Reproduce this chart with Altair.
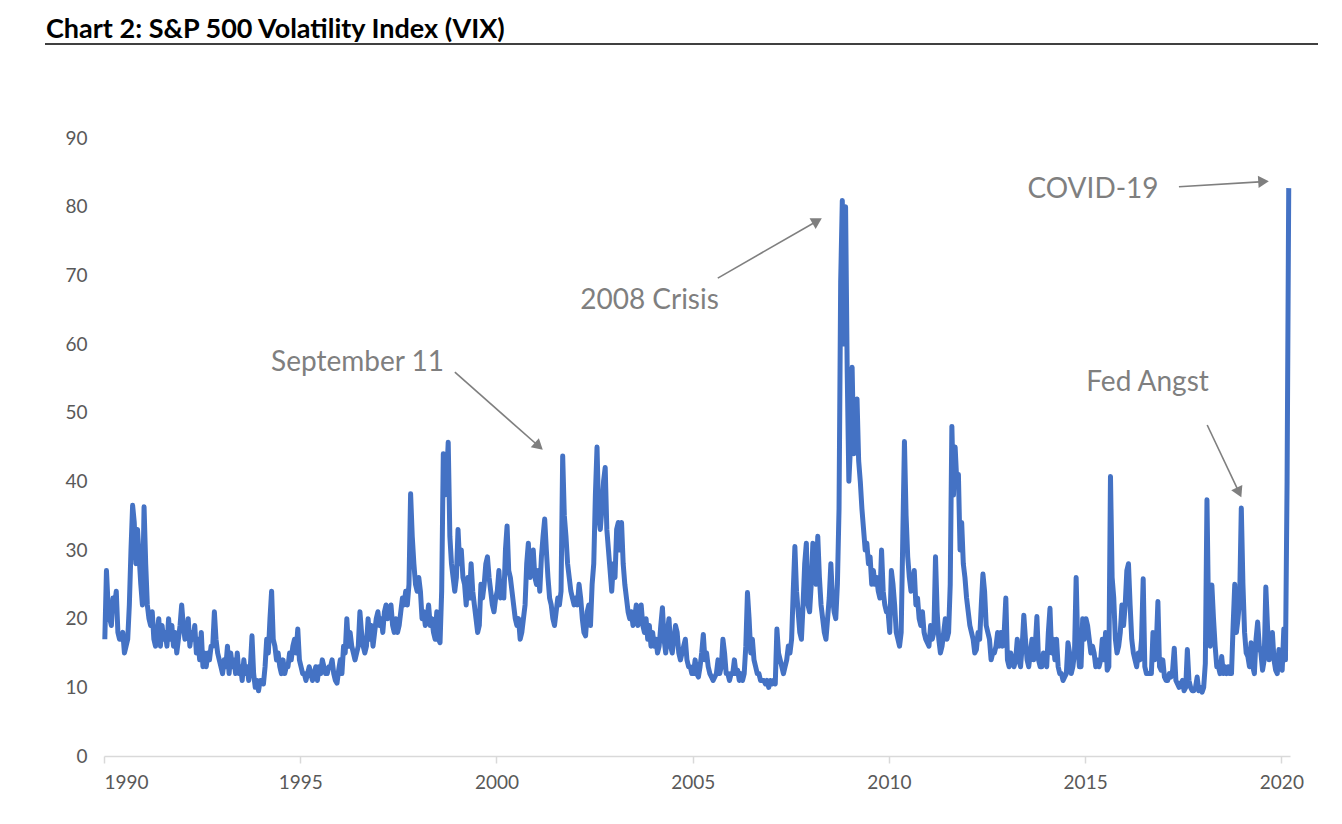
import math
import altair as alt
import pandas as pd

# ---------------- data (semi-monthly readings of the VIX) -------------
v1990 = [17, 27, 22, 20, 19, 23, 22, 24, 18, 17, 17, 18, 15, 16, 17, 22, 30, 36.5, 34, 28, 33, 29, 25, 22]
v1991 = [36.3, 28, 22, 20, 19, 21, 17, 16, 18, 20, 16, 19, 17, 18, 16, 20, 17, 19, 16, 18, 15, 17, 19, 22]
v1992 = [19, 17, 18, 20, 16, 18, 17, 19, 15, 17, 14, 18, 13, 15, 13, 15, 14, 16, 16, 21, 17, 15, 14, 13]
v1993 = [12, 14, 13, 16, 12, 15, 13, 14, 12, 15, 12, 13, 11, 14, 12, 13, 11, 13, 17.5, 12, 10, 11, 9.5, 11]
v1994 = [11, 10.5, 13, 17, 15, 20, 24, 17, 16, 14, 15, 13, 12, 14, 12, 13, 13, 15, 14, 16, 17, 15, 18.5, 14]
v1995 = [13, 12, 12, 11, 12, 13, 12, 11, 12, 13, 11, 13, 12, 14, 13, 12, 12, 13, 13, 14, 12, 11, 10.6, 12.5]
v1996 = [14, 12, 16, 15, 20, 16, 18, 16, 15, 14, 15, 16, 21, 18, 16, 15, 16, 20, 17, 19, 16, 18, 20, 21]
v1997 = [19, 20, 18, 21, 22, 20, 21, 22, 19, 18, 20, 18, 19, 21, 23, 22, 24, 22, 25, 38.2, 32, 28, 25, 24]
v1998 = [26, 24, 20, 21, 19, 20, 22, 19, 20, 18, 17, 21, 17, 16.5, 24, 44, 38, 40, 45.7, 32, 28, 26, 24, 26]
v1999 = [33, 28, 30, 26, 25, 22, 26, 23, 28, 24, 22, 20, 18, 19, 25, 23, 25, 28, 29, 26, 24, 22, 21, 23]
v2000 = [24, 27, 23, 25, 23, 30, 33.5, 27, 26, 24, 22, 20, 19, 20, 17, 18, 20, 22, 28, 31, 26, 29, 30, 26]
v2001 = [25, 27, 24, 29, 32, 34.5, 30, 26, 23, 22, 20, 19, 21, 23, 22, 24, 43.7, 35, 32, 28, 26, 24, 23, 22]
v2002 = [23, 22, 25, 23, 20, 18, 17.5, 21, 22, 19, 25, 28, 38, 45, 35, 33, 36, 40, 42, 33, 30, 27, 24, 28]
v2003 = [26, 33, 34, 30, 34, 28, 25, 23, 21, 20, 21, 19, 20, 22, 19, 21, 22, 19, 18, 20, 17, 19, 16, 18]
v2004 = [16, 17, 15, 16, 19, 21.6, 17, 15, 18, 20, 16, 15, 17, 19, 18, 15, 14, 15, 16, 17, 14, 13, 13, 12]
v2005 = [12, 14, 12, 11.5, 13, 15, 17.7, 14, 15, 13, 12, 11.5, 11, 11.5, 12, 14, 12, 13, 17, 15, 12, 12, 11, 12]
v2006 = [12, 14, 12, 12.5, 11, 12, 11, 12, 16, 23.8, 20, 15, 17, 14, 13, 12, 12, 11, 11, 11, 10.5, 11, 10, 11]
v2007 = [10.5, 11, 10.5, 18.5, 15, 14, 13, 12, 13, 14, 16, 15, 17, 24, 30.5, 24, 21, 18, 17, 22, 28, 31, 22, 21]
v2008 = [25, 31, 27, 25, 32, 26, 22, 20, 18, 17, 20, 23, 28, 23, 21, 20, 25, 36, 69, 80.9, 60, 80, 56, 40]
v2009 = [45, 56.6, 44, 50, 52, 43, 40, 36, 33, 30, 31, 28, 29, 25, 27, 25, 26, 24, 23, 30, 24, 22, 21, 21]
v2010 = [18, 27, 25, 22, 18, 17, 16, 18, 32, 45.8, 35, 29, 26, 24, 25, 27, 22, 23, 20, 19, 21, 18, 17, 16.5]
v2011 = [16, 19, 17, 18, 29, 21, 17, 15, 16, 18, 20, 17, 18, 25, 48, 38, 45, 40, 41, 30, 34, 28, 26, 23]
v2012 = [21, 19, 18, 17, 15, 15.5, 18, 17, 22, 26.5, 24, 19, 18, 17, 14, 15, 15, 16, 18, 16, 18, 16, 18, 23]
v2013 = [14, 13, 15, 14, 13, 14, 17, 14, 13, 16, 20.5, 17, 14, 13, 15, 17, 14, 16, 20.3, 14, 13, 13, 15, 14]
v2014 = [13, 18, 21.5, 15, 17, 14, 17, 13, 12, 12, 11, 11.5, 12, 16.5, 15, 12, 13, 15, 26, 16, 13, 13, 20, 17]
v2015 = [20, 19, 17, 15, 16, 15, 13, 14, 13, 14, 17, 14, 18, 12.5, 13, 40.7, 26, 23, 17, 15, 16, 18, 22, 19]
v2016 = [22, 27, 28, 22, 17, 15, 14, 13, 15, 14, 17, 25.8, 13, 12, 12, 12, 12, 18, 14, 16, 22.5, 13, 12.5, 14]
v2017 = [11.5, 11, 11, 12, 11.5, 12.5, 15.7, 11, 10.5, 10, 10.5, 11, 9.5, 10, 15.5, 11, 10, 9.5, 9.5, 10, 11.5, 9.5, 10, 9.3]
v2018 = [10, 13.5, 37.3, 20, 16, 24.9, 20, 16, 13, 13, 12, 14.5, 12, 13, 12, 13, 12, 12, 19, 25, 18, 20, 23, 36.1]
v2019 = [25, 18, 15, 14.5, 13, 16.5, 13, 12, 17, 19.5, 16, 15, 12.5, 14, 24.6, 19, 14, 15.5, 18, 14, 12.5, 12, 15.5, 13]
v2020 = [12.5, 18.5, 14, 40, 82.7]

years = list(range(1990, 2021))
series = [v1990, v1991, v1992, v1993, v1994, v1995, v1996, v1997, v1998, v1999,
          v2000, v2001, v2002, v2003, v2004, v2005, v2006, v2007, v2008, v2009,
          v2010, v2011, v2012, v2013, v2014, v2015, v2016, v2017, v2018, v2019, v2020]

x_ticks = [1990, 1995, 2000, 2005, 2010, 2015, 2020]
y_ticks = [0, 10, 20, 30, 40, 50, 60, 70, 80, 90]

title_text = "Chart 2: S&P 500 Volatility Index (VIX)"

ann_labels = ["September 11", "2008 Crisis", "COVID-19", "Fed Angst"]
ann_text_x = [1996.46, 2003.90, 2015.20, 2016.59]
ann_text_y = [57.2, 66.3, 82.4, 54.3]
arrow_x0 = [1998.94, 2005.64, 2017.39, 2018.11]
arrow_y0 = [55.9, 69.6, 82.9, 48.2]
arrow_x1 = [2001.18, 2008.29, 2019.68, 2018.98]
arrow_y1 = [44.6, 78.3, 83.7, 37.7]

# ---------------- layout ----------------
W, H = 1186, 618
X_DOMAIN = [1990, 2020.22]
Y_DOMAIN = [0, 90]
px_per_x = W / (X_DOMAIN[1] - X_DOMAIN[0])
px_per_y = H / (Y_DOMAIN[1] - Y_DOMAIN[0])

rows = []
for yr, vals in zip(years, series):
    for i, v in enumerate(vals):
        rows.append({"t": yr + (i + 0.5) / 24.0, "vix": v})
df = pd.DataFrame(rows)

# arrows: shaft + triangular head
shafts, heads = [], []
HEAD_SIZE = 150
tip = math.sqrt(HEAD_SIZE) / 2 * math.sqrt(3) / 2
for x0, y0, x1, y1 in zip(arrow_x0, arrow_y0, arrow_x1, arrow_y1):
    dxp = (x1 - x0) * px_per_x
    dyp = -(y1 - y0) * px_per_y
    L = math.hypot(dxp, dyp)
    ux, uy = dxp / L, dyp / L
    ang = math.degrees(math.atan2(ux, -uy)) % 360
    cx = x1 - ux * tip / px_per_x
    cy = y1 + uy * tip / px_per_y
    shafts.append({"x0": x0, "y0": y0, "x1": cx, "y1": cy})
    heads.append({"x": cx, "y": cy, "angle": ang})
shaft_df = pd.DataFrame(shafts)
head_df = pd.DataFrame(heads)
ann_df = pd.DataFrame({"label": ann_labels, "x": ann_text_x, "y": ann_text_y})

xs = alt.Scale(domain=X_DOMAIN, nice=False, zero=False)
ys = alt.Scale(domain=Y_DOMAIN, nice=False)

GRAY = "#7f7f7f"
FONT = "Lato"

line = alt.Chart(df).mark_line(color="#4472C4", strokeWidth=5, strokeJoin="round").encode(
    x=alt.X("t:Q", scale=xs, axis=alt.Axis(
        values=x_ticks, format="d", title=None, grid=False,
        domainColor="#d9d9d9", domainWidth=1.5, tickColor="#d9d9d9", tickWidth=1.5,
        tickSize=7, labelFontSize=19, labelColor="#595959", labelFont=FONT,
        labelPadding=10)),
    y=alt.Y("vix:Q", scale=ys, axis=alt.Axis(
        values=y_ticks, title=None, grid=False, domain=False, ticks=False,
        labelFontSize=19, labelColor="#595959", labelFont=FONT, labelPadding=17)),
)

shaft = alt.Chart(shaft_df).mark_rule(color=GRAY, strokeWidth=1.6).encode(
    x=alt.X("x0:Q", scale=xs), y=alt.Y("y0:Q", scale=ys),
    x2="x1:Q", y2="y1:Q")

head = alt.Chart(head_df).mark_point(shape="triangle-up", filled=True, color=GRAY,
                                      opacity=1, size=HEAD_SIZE).encode(
    x=alt.X("x:Q", scale=xs), y=alt.Y("y:Q", scale=ys),
    angle=alt.Angle("angle:Q", scale=None))

texts = alt.Chart(ann_df).mark_text(font=FONT, fontSize=28, color=GRAY,
                                    align="center", baseline="middle").encode(
    x=alt.X("x:Q", scale=xs), y=alt.Y("y:Q", scale=ys), text="label:N")

title_df = pd.DataFrame({"label": [title_text]})
title = alt.Chart(title_df).mark_text(font=FONT, fontSize=27, fontWeight="bold",
                                      color="#000000", align="left",
                                      baseline="alphabetic").encode(
    x=alt.value(-58), y=alt.value(-100), text="label:N")

title_rule = alt.Chart(title_df).mark_rule(color="#000000", strokeWidth=1.5).encode(
    x=alt.value(-59), x2=alt.value(1214), y=alt.value(-94))

chart = alt.layer(line, shaft, head, texts, title, title_rule).properties(
    width=W, height=H,
    autosize=alt.AutoSizeParams(type="none"),
    padding={"left": 96, "top": 130, "right": 36, "bottom": 52},
).configure_view(stroke=None)

chart.save("out.html", embed_options={"renderer": "svg", "actions": False})
